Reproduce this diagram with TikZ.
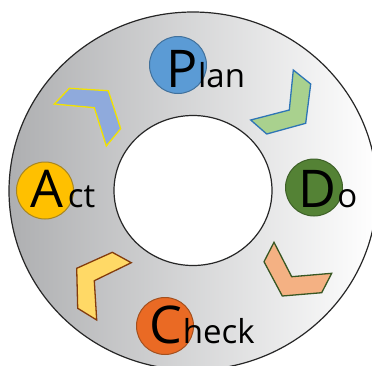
\documentclass[tikz,border=0pt]{standalone}
\usepackage{fontspec}
\setmainfont{Open Sans}
\definecolor{ringleft}{HTML}{AEAFB1}
\definecolor{ringright}{HTML}{FFFFFF}
\definecolor{planfill}{HTML}{5B9BD5}
\definecolor{planline}{HTML}{41719C}
\definecolor{dofill}{HTML}{548235}
\definecolor{doline}{HTML}{3E6128}
\definecolor{checkfill}{HTML}{EA6A24}
\definecolor{checkline}{HTML}{A4501E}
\definecolor{actfill}{HTML}{FFC000}
\definecolor{actline}{HTML}{A88620}
\definecolor{chevblue}{HTML}{8FAADC}
\definecolor{chevblueline}{HTML}{F2E200}
\definecolor{chevgreen}{HTML}{A9D18E}
\definecolor{chevgreenline}{HTML}{2E75B6}
\definecolor{chevorange}{HTML}{F4B183}
\definecolor{chevorangeline}{HTML}{385723}
\definecolor{chevyellow}{HTML}{FFD966}
\definecolor{chevyellowline}{HTML}{843C0C}
\tikzset{
  ringline/.style={draw=black!85, line width=1.2pt},
  badge/.style={circle, minimum size=57pt, inner sep=0pt, line width=1pt},
  bigletter/.style={inner sep=0pt, font=\fontsize{52}{52}\selectfont},
  smalltext/.style={inner sep=0pt, font=\fontsize{33}{33}\selectfont},
  chevron/.style={line width=1.3pt, line join=miter}
}
\begin{document}
\begin{tikzpicture}[x=1pt,y=-1pt]
\useasboundingbox (0,0) rectangle (372,365);
\clip (0,0) rectangle (372,365);
% shaded ring
\shade[left color=ringleft, right color=ringright]
  (193,191) ellipse [x radius=184, y radius=179];
\draw[ringline] (193,191) ellipse [x radius=184, y radius=179];
\filldraw[fill=white, ringline] (193,190.5) ellipse [x radius=79, y radius=75];

% stage badges
\node[badge, fill=planfill, draw=planline] (planc) at (178,65) {};
\node[badge, fill=dofill, draw=doline] (doc) at (314,187.5) {};
\node[badge, fill=checkfill, draw=checkline] (checkc) at (165,326) {};
\node[badge, fill=actfill, draw=actline] (actc) at (45,190.5) {};

% stage labels
\node[bigletter, anchor=base] (P) at (182,87) {P};
\node[smalltext, anchor=base west] (lan) at (P.base east) {lan};
\node[bigletter, anchor=base] (D) at (317,207) {D};
\node[smalltext, anchor=base west] (o) at ([xshift=1pt]D.base east) {o};
\node[bigletter, anchor=base] (C) at (166,343) {C};
\node[smalltext, anchor=base west] (heck) at (C.base east) {heck};
\node[bigletter, anchor=base] (A) at (47,207) {A};
\node[smalltext, anchor=base west] (ct) at ([xshift=4pt]A.base east) {ct};

% chevrons between stages
\filldraw[chevron, fill=chevblue, draw=chevblueline]
  (69.3,88.3) -- (108.3,90.7) -- (120.7,128.7) -- (106.3,146)
  -- (94.3,107.7) -- (54.3,104) -- cycle;
\filldraw[chevron, fill=chevgreen, draw=chevgreenline]
  (293.3,70) -- (310.7,84) -- (305.7,123.3) -- (266.7,134)
  -- (250.7,120) -- (289.3,110) -- cycle;
\filldraw[chevron, fill=chevorange, draw=chevorangeline]
  (274,242.3) -- (291.7,276.7) -- (331.7,273.3) -- (321.7,292.7)
  -- (282.3,296) -- (264,261.7) -- cycle;
\filldraw[chevron, fill=chevyellow, draw=chevyellowline]
  (112.3,252.3) -- (131.3,262.7) -- (94.3,280.7) -- (96.7,320)
  -- (77.7,308.3) -- (76.7,268.3) -- cycle;
\end{tikzpicture}
\end{document}
